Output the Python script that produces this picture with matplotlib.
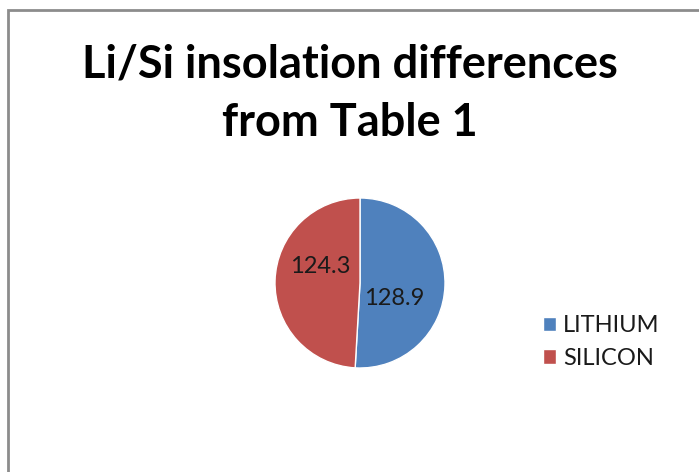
import matplotlib
matplotlib.use("Agg")
import matplotlib.pyplot as plt
from matplotlib.patches import Rectangle

# data
categories = ["LITHIUM", "SILICON"]
values = [128.9, 124.3]
colors = ["#4F81BD", "#C0504D"]
title = "Li/Si insolation differences\nfrom Table 1"

plt.rcParams['font.family'] = ['Lato', 'DejaVu Sans']

W, H = 699, 472
fig = plt.figure(figsize=(W / 100, H / 100), dpi=100)
fig.patch.set_facecolor("white")

# chart area border (runs off right/bottom edges)
fig.patches.append(Rectangle((7.5 / W, -0.05), 1.2, (H - 9.5) / H + 0.05,
                             transform=fig.transFigure, fill=False,
                             edgecolor="#8c8c8c", linewidth=2.0))

fig.text(350 / W, 1 - 94 / H, title, ha="center", va="center",
         fontsize=32.5, fontweight="bold", linespacing=1.5)

# pie axes: centre (360, 283), radius 85 px
cx, cy, r = 360, 283, 85
ax = fig.add_axes([(cx - r) / W, (H - cy - r) / H, 2 * r / W, 2 * r / H])
wedges, _ = ax.pie(values, colors=colors, startangle=90, counterclock=False,
                   wedgeprops=dict(edgecolor="white", linewidth=1.0))
ax.set_xlim(-1, 1)
ax.set_ylim(-1, 1)
ax.set_aspect("auto")

# value labels, placed where the original has them
label_pos = [(0.4, -0.18), (-0.47, 0.19)]
for v, (x, y) in zip(values, label_pos):
    ax.text(x, y, f"{v:.1f}", ha="center", va="center", fontsize=17,
            color="#1a1a1a")

leg = fig.legend(wedges, categories, loc="center left",
                 bbox_to_anchor=(522 / W, 1 - 342 / H), frameon=False,
                 fontsize=17, handlelength=0.55, handleheight=0.55,
                 handletextpad=0.3, labelspacing=0.5)
for t in leg.get_texts():
    t.set_color("#1a1a1a")

fig.savefig("out.png", dpi=100)
